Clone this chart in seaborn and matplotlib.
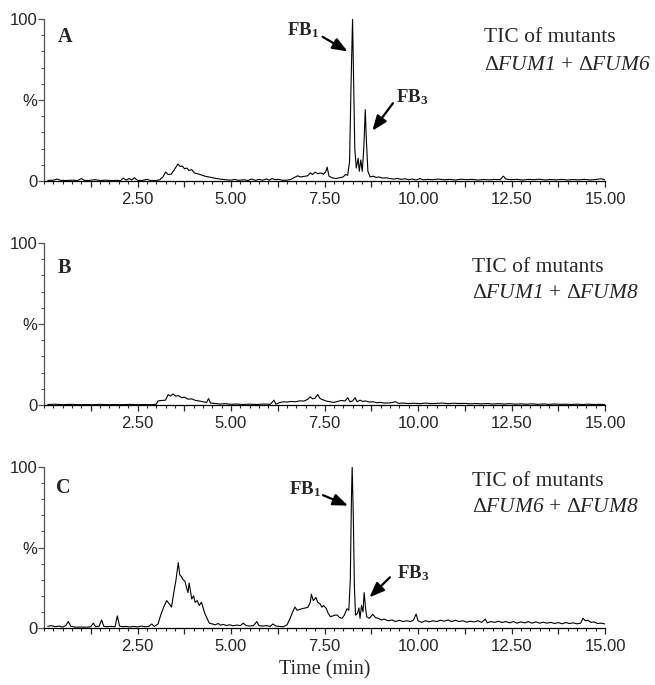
import matplotlib
matplotlib.use("Agg")
import matplotlib.pyplot as plt
from matplotlib.ticker import MultipleLocator, FixedLocator, FixedFormatter
import seaborn as sns

# TIC traces (time in min, relative intensity in %)
time_a = [0.10, 0.25, 0.35, 0.45, 0.60, 0.75, 0.90, 1.00, 1.08, 1.20, 1.35, 1.50, 1.65, 1.80, 1.95,
          2.05, 2.12, 2.20, 2.28, 2.34, 2.42, 2.50, 2.62, 2.75, 2.85, 3.00, 3.10, 3.18, 3.25, 3.32,
          3.40, 3.50, 3.58, 3.64, 3.70, 3.76, 3.82, 3.88, 3.95, 4.02, 4.10, 4.20, 4.30, 4.42, 4.55,
          4.70, 4.85, 5.00, 5.10, 5.20, 5.35, 5.45, 5.55, 5.65, 5.75, 5.85, 5.95, 6.02, 6.10, 6.18,
          6.28, 6.38, 6.50, 6.60, 6.70, 6.78, 6.86, 6.95, 7.05, 7.12, 7.18, 7.25, 7.32, 7.40, 7.47,
          7.53, 7.57, 7.62, 7.70, 7.80, 7.90, 8.00, 8.06, 8.12, 8.17, 8.21, 8.25, 8.28, 8.31, 8.35,
          8.40, 8.43, 8.47, 8.51, 8.55, 8.59, 8.62, 8.66, 8.72, 8.80, 8.88, 8.95, 9.05, 9.15, 9.25,
          9.35, 9.45, 9.55, 9.65, 9.75, 9.85, 9.95, 10.05, 10.15, 10.25, 10.40, 10.55, 10.70, 10.85,
          11.00, 11.15, 11.30, 11.45, 11.60, 11.75, 11.90, 12.05, 12.20, 12.28, 12.35, 12.50, 12.65,
          12.80, 12.95, 13.10, 13.25, 13.40, 13.55, 13.70, 13.85, 14.00, 14.15, 14.30, 14.45, 14.60,
          14.75, 14.90, 15.00, 15.08]
tic_a = [0.3, 0.5, 1.2, 0.4, 0.3, 0.5, 0.3, 1.5, 0.4, 0.3, 0.8, 0.3, 0.5, 0.3, 0.4,
         0.3, 1.8, 0.5, 1.6, 0.6, 2.0, 0.4, 0.3, 1.0, 0.3, 0.3, 0.8, 2.5, 5.5, 4.0,
         4.2, 7.5, 10.5, 9.0, 9.2, 7.5, 8.0, 6.5, 7.0, 5.0, 4.5, 3.8, 3.0, 2.4, 1.8,
         1.2, 0.8, 0.5, 1.0, 0.4, 0.8, 0.3, 1.2, 0.4, 1.0, 0.5, 1.3, 0.5, 1.5, 0.8,
         1.0, 0.4, 0.5, 1.0, 2.2, 3.2, 2.5, 2.8, 3.2, 5.0, 4.0, 5.5, 4.5, 5.0, 4.2,
         5.5, 8.6, 3.0, 2.0, 1.5, 2.0, 2.5, 4.0, 3.5, 12.0, 60.0, 100.0, 60.0, 20.0, 8.0,
         14.0, 6.0, 13.0, 6.0, 20.0, 44.0, 25.0, 6.0, 2.5, 3.0, 2.2, 2.5, 1.8, 2.0, 1.5,
         1.2, 1.6, 1.0, 1.4, 0.8, 1.2, 0.6, 1.5, 0.7, 1.0, 0.8, 1.2, 0.7, 1.0,
         0.6, 1.1, 0.8, 1.0, 0.6, 0.9, 0.7, 1.0, 0.8, 3.0, 1.2, 0.8, 1.0,
         0.6, 1.0, 0.8, 1.1, 0.6, 0.9, 0.7, 1.0, 0.6, 0.9, 0.7, 1.0, 0.6,
         0.9, 1.4, 0.7, 0.9]

time_b = [0.10, 0.30, 0.50, 0.70, 0.90, 1.10, 1.30, 1.50, 1.70, 1.90, 2.10, 2.30, 2.50, 2.70, 2.90,
          3.00, 3.05, 3.15, 3.25, 3.32, 3.38, 3.45, 3.52, 3.60, 3.68, 3.76, 3.85, 3.95, 4.05, 4.15,
          4.25, 4.35, 4.40, 4.45, 4.55, 4.70, 4.85, 5.00, 5.15, 5.30, 5.50, 5.70, 5.90, 6.05, 6.15,
          6.20, 6.30, 6.40, 6.50, 6.60, 6.72, 6.85, 6.95, 7.05, 7.12, 7.18, 7.25, 7.32, 7.38, 7.46,
          7.55, 7.65, 7.75, 7.85, 7.95, 8.05, 8.12, 8.18, 8.25, 8.32, 8.37, 8.45, 8.52, 8.60, 8.70,
          8.80, 8.90, 9.00, 9.10, 9.25, 9.40, 9.48, 9.60, 9.75, 9.90, 10.05, 10.20, 10.35, 10.50,
          10.65, 10.80, 10.95, 11.10, 11.25, 11.40, 11.55, 11.70, 11.85, 12.00, 12.15, 12.30, 12.45,
          12.60, 12.75, 12.90, 13.05, 13.20, 13.35, 13.50, 13.65, 13.80, 13.95, 14.10, 14.25, 14.40,
          14.55, 14.70, 14.85, 15.00]
tic_b = [0.3, 0.5, 0.2, 0.4, 0.2, 0.3, 0.2, 0.4, 0.2, 0.3, 0.2, 0.4, 0.2, 0.3, 0.2,
         0.5, 2.5, 2.8, 3.0, 6.5, 5.5, 6.8, 5.5, 5.8, 4.5, 4.8, 3.6, 3.8, 2.8, 2.5,
         2.0, 1.6, 4.0, 1.2, 1.0, 0.6, 0.8, 0.4, 0.6, 0.3, 0.5, 0.3, 0.6, 0.4, 3.0,
         0.5, 1.5, 2.0, 1.8, 2.2, 2.0, 2.6, 2.4, 3.5, 5.0, 3.8, 4.2, 6.5, 4.0, 3.2,
         2.4, 2.0, 1.6, 2.2, 2.8, 2.5, 4.5, 2.0, 2.5, 4.5, 2.0, 3.0, 2.2, 2.5, 1.8,
         2.0, 1.4, 1.6, 1.2, 1.3, 2.0, 1.0, 1.2, 0.9, 1.1, 0.8, 1.2, 0.8, 1.0,
         1.2, 0.8, 1.1, 0.9, 1.0, 0.7, 0.9, 0.7, 0.9, 0.6, 0.8, 0.6, 0.8,
         0.5, 0.7, 0.5, 0.7, 0.4, 0.6, 0.4, 0.6, 0.4, 0.5, 0.3, 0.5, 0.3,
         0.5, 0.3, 0.4, 0.3]

time_c = [0.10, 0.20, 0.30, 0.40, 0.50, 0.58, 0.65, 0.72, 0.85, 1.00, 1.15, 1.25, 1.32, 1.38, 1.47,
          1.54, 1.60, 1.70, 1.80, 1.90, 1.96, 2.02, 2.10, 2.20, 2.30, 2.40, 2.50, 2.60, 2.70, 2.80,
          2.88, 2.95, 3.05, 3.12, 3.20, 3.28, 3.35, 3.41, 3.47, 3.53, 3.59, 3.63, 3.67, 3.72, 3.77,
          3.81, 3.85, 3.88, 3.91, 3.95, 4.00, 4.04, 4.10, 4.15, 4.21, 4.26, 4.30, 4.36, 4.42, 4.50,
          4.58, 4.66, 4.72, 4.80, 4.88, 4.96, 5.05, 5.15, 5.25, 5.33, 5.40, 5.50, 5.60, 5.69, 5.75,
          5.85, 5.95, 6.05, 6.12, 6.20, 6.30, 6.40, 6.50, 6.58, 6.65, 6.71, 6.77, 6.83, 6.90, 7.00,
          7.06, 7.12, 7.15, 7.20, 7.24, 7.27, 7.32, 7.38, 7.43, 7.48, 7.55, 7.60, 7.66, 7.72, 7.78,
          7.84, 7.90, 7.97, 8.03, 8.10, 8.15, 8.19, 8.22, 8.24, 8.27, 8.30, 8.33, 8.38, 8.42, 8.45,
          8.49, 8.53, 8.56, 8.60, 8.63, 8.70, 8.79, 8.86, 8.94, 9.02, 9.10, 9.20, 9.30, 9.40, 9.50,
          9.60, 9.70, 9.80, 9.88, 9.95, 10.00, 10.10, 10.20, 10.30, 10.40, 10.50, 10.60, 10.70, 10.80,
          10.90, 11.00, 11.10, 11.20, 11.30, 11.40, 11.50, 11.60, 11.70, 11.80, 11.85, 11.95, 12.05,
          12.15, 12.25, 12.35, 12.45, 12.55, 12.65, 12.75, 12.85, 12.95, 13.05, 13.15, 13.25, 13.35,
          13.45, 13.55, 13.65, 13.75, 13.85, 13.95, 14.05, 14.15, 14.25, 14.35, 14.41, 14.48, 14.55,
          14.62, 14.70, 14.80, 14.90, 15.00, 15.08]
tic_c = [1.0, 1.5, 0.8, 1.2, 0.6, 1.5, 4.0, 1.0, 0.5, 0.6, 0.5, 0.8, 3.0, 0.8, 1.0,
         5.0, 1.0, 0.8, 1.0, 0.8, 7.5, 1.2, 0.8, 1.0, 0.6, 1.0, 0.7, 1.2, 0.8, 1.0,
         2.5, 1.0, 2.5, 8.0, 13.0, 17.0, 15.0, 13.0, 22.0, 30.0, 40.6, 33.0, 32.0, 30.0, 29.0,
         25.0, 22.0, 28.0, 24.0, 18.0, 20.0, 16.0, 17.0, 14.0, 16.0, 12.0, 9.0, 6.0, 3.0, 2.5,
         2.0, 2.8, 1.8, 2.2, 1.5, 2.0, 1.4, 1.8, 1.5, 3.0, 1.5, 1.2, 1.5, 4.0, 1.4,
         1.2, 1.5, 1.0, 2.5, 1.2, 1.0, 0.8, 2.0, 6.0, 10.0, 13.0, 11.0, 11.5, 12.0, 12.5,
         13.0, 16.0, 21.0, 17.0, 18.0, 19.0, 16.0, 15.0, 13.0, 14.0, 12.0, 9.0, 7.0, 7.5, 8.0,
         8.0, 6.5, 6.0, 8.0, 12.0, 11.0, 30.0, 80.0, 100.0, 70.0, 25.0, 8.0, 9.0, 12.5, 6.0,
         14.0, 10.0, 22.0, 12.0, 7.0, 6.0, 8.5, 6.5, 6.0, 5.0, 5.5, 4.5, 5.0, 4.0, 4.8,
         4.0, 4.5, 4.0, 5.0, 8.7, 4.5, 3.5, 4.5, 3.8, 4.5, 4.0, 4.8, 4.2, 5.0,
         4.0, 4.8, 4.0, 4.5, 3.6, 4.2, 3.8, 4.5, 3.5, 5.5, 3.2, 4.0, 3.5,
         4.2, 3.4, 4.0, 3.2, 4.0, 3.0, 3.8, 3.2, 4.0, 3.0, 3.8, 3.0, 3.6,
         3.0, 3.5, 2.8, 3.4, 2.6, 3.4, 2.8, 3.2, 2.6, 3.0, 6.0, 4.5, 4.8,
         3.5, 3.8, 2.8, 3.0, 2.5, 2.6]

panel_letters = ["A", "B", "C"]
mutant_pairs = [("FUM1", "FUM6"), ("FUM1", "FUM8"), ("FUM6", "FUM8")]
x_tick_labels = ["", "2.50", "", "5.00", "", "7.50", "", "10.00", "", "12.50", "", "15.00"]

sns.set_style("ticks")
plt.rcParams["font.family"] = ["Liberation Sans", "DejaVu Sans"]
plt.rcParams["mathtext.fontset"] = "custom"
plt.rcParams["mathtext.rm"] = "Liberation Serif"
plt.rcParams["mathtext.it"] = "Liberation Serif:italic"
plt.rcParams["mathtext.bf"] = "Liberation Serif:bold"
# italic serif for gene names, digits included
plt.rcParams["mathtext.sf"] = "Liberation Serif:italic"

fig = plt.figure(figsize=(6.55, 6.85), dpi=100)
W, H = 655, 685

# axes boxes in pixels: (top of 100 %, bottom at 0 %)
boxes = [(19, 181), (243, 405), (467, 628)]
x0, x1 = 44, 605

traces = [(time_a, tic_a), (time_b, tic_b), (time_c, tic_c)]
axes = []
for (top, bot), (t, v) in zip(boxes, traces):
    ax = fig.add_axes([x0 / W, 1 - bot / H, (x1 - x0) / W, (bot - top) / H])
    sns.lineplot(x=t, y=v, ax=ax, color="black", linewidth=0.8, estimator=None)
    ax.set_xlim(0, 15)
    ax.set_ylim(0, 100)
    sns.despine(ax=ax)
    ax.spines["left"].set_color("#555555")
    ax.spines["left"].set_linewidth(0.9)
    ax.spines["bottom"].set_color("black")
    ax.spines["bottom"].set_linewidth(0.9)

    ax.xaxis.set_major_locator(FixedLocator([1.25 * k for k in range(1, 13)]))
    ax.xaxis.set_major_formatter(FixedFormatter(x_tick_labels))
    ax.xaxis.set_minor_locator(MultipleLocator(0.25))
    ax.yaxis.set_major_locator(FixedLocator([0, 50, 100]))
    ax.yaxis.set_major_formatter(FixedFormatter(["0", "%", "100"]))
    ax.yaxis.set_minor_locator(MultipleLocator(10))
    ax.tick_params(axis="x", which="major", length=4.2, width=0.9, pad=4, labelsize=12)
    ax.tick_params(axis="x", which="minor", length=2.2, width=0.8)
    ax.tick_params(axis="y", which="major", length=4.3, width=0.9, pad=0.5, labelsize=12,
                   color="#555555")
    ax.tick_params(axis="y", which="minor", length=2.5, width=0.8, color="#555555")
    ax.set_xlabel("")
    ax.set_ylabel("")
    for lab in ax.get_xticklabels() + ax.get_yticklabels():
        lab.set_fontfamily("Liberation Sans")
    axes.append(ax)

axes[2].set_xlabel("Time (min)", fontsize=14.5, fontfamily="Liberation Serif", labelpad=4)

# panel letters and titles (pixel positions)
letter_pos = [(58, 37), (58, 268), (56, 488)]
title_pos = [(484, 38, 65), (472, 268, 294), (472, 482, 507)]
for letter, (lx, ly), (a, b), (tx, ty1, ty2) in zip(panel_letters, letter_pos, mutant_pairs, title_pos):
    fig.text(lx / W, 1 - ly / H, letter, fontsize=14.5, fontweight="bold",
             fontfamily="Liberation Serif", va="center", ha="left")
    fig.text(tx / W, 1 - ty1 / H, "TIC of mutants", fontsize=15.5,
             fontfamily="Liberation Serif", va="center", ha="left")
    fig.text(tx / W, 1 - ty2 / H, r"$\Delta\mathsf{%s}$ + $\Delta\mathsf{%s}$" % (a, b),
             fontsize=15.5, fontfamily="Liberation Serif", va="center", ha="left")

# peak labels with arrows (data coordinates)
arrow_kw = dict(arrowstyle="-|>,head_length=0.9,head_width=0.35", color="black", lw=1.6,
                shrinkA=0, shrinkB=0)
peak_marks = {
    0: [(r"$\mathbf{FB}_{\mathbf{1}}$", (6.93, 93), (7.45, 89), (8.12, 80)),
        (r"$\mathbf{FB}_{\mathbf{3}}$", (9.84, 52), (9.33, 48), (8.78, 31))],
    2: [(r"$\mathbf{FB}_{\mathbf{1}}$", (6.98, 86), (7.46, 82.5), (8.13, 76)),
        (r"$\mathbf{FB}_{\mathbf{3}}$", (9.87, 34), (9.25, 31.5), (8.70, 19))],
}
for i, marks in peak_marks.items():
    ax = axes[i]
    for label, text_xy, tail, tip in marks:
        ax.text(text_xy[0], text_xy[1], label, fontsize=13.5, ha="center", va="center")
        ax.annotate("", xy=tip, xytext=tail, arrowprops=arrow_kw)

plt.savefig("out.png", dpi=100)
plt.close()
